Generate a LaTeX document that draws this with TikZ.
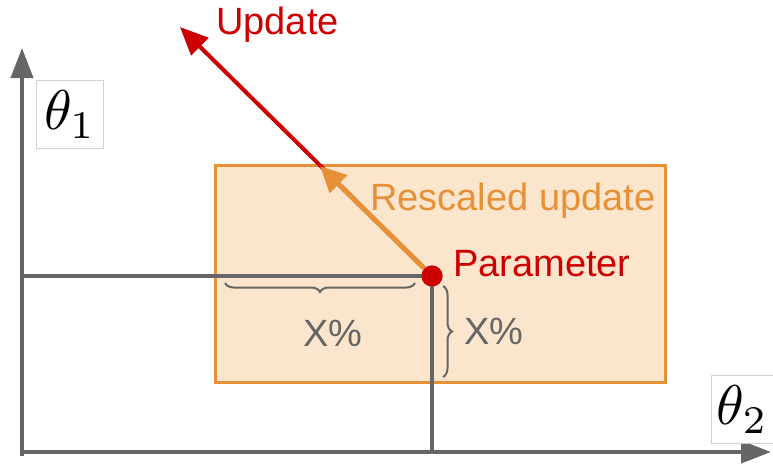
\documentclass[tikz,border=0pt]{standalone}
\usepackage{fontspec}
\setmainfont{Liberation Sans}
\usetikzlibrary{arrows.meta,decorations.pathreplacing}
\definecolor{dred}{HTML}{CC0000}
\definecolor{orng}{HTML}{E69138}
\definecolor{peach}{HTML}{FCE5CD}
\definecolor{dgray}{HTML}{666666}
\tikzset{
  axis/.style={draw=dgray,line width=4pt,-{Triangle[length=30pt,width=22pt]}},
  gline/.style={draw=dgray,line width=4pt},
  bracey/.style={draw=dgray,line width=2pt,decorate,decoration={brace,amplitude=9pt}},
  lbl/.style={font=\fontsize{38}{40}\selectfont,inner sep=0pt},
  thbox/.style={draw=black!18,line width=0.8pt,fill=white,inner sep=0pt}
}
\begin{document}
\begin{tikzpicture}[x=1pt,y=-1pt]
\useasboundingbox (0,0) rectangle (773,463);
% region
\node (box) [draw=orng,fill=peach,line width=3pt,minimum width=450pt,minimum height=217pt,inner sep=0pt,anchor=north west] at (214,164) {};
% coordinates
\coordinate (yend) at (22,48);
\coordinate (xend) at (771,452);
\coordinate (ybot) at (22,456);
\coordinate (xstart) at (20,452);
\coordinate (hl) at (22,276);
\coordinate (vb) at (432,452);
\coordinate (utip) at (180,27);
\coordinate (rtip) at (320,166);
% axes
\draw[axis] (ybot) -- (yend);
\draw[axis] (xstart) -- (xend);
% parameter point
\node (param) [circle,fill=dred,minimum size=21pt,inner sep=0pt] at (432,276) {};
% projection lines
\draw[gline] (hl) -- (param.center) -- (vb);
% braces
\coordinate (b1a) at (415,283);
\coordinate (b1b) at (225,283);
\coordinate (b2a) at (443,286);
\coordinate (b2b) at (443,377);
\draw[bracey] (b1a) -- (b1b);
\draw[bracey] (b2a) -- (b2b);
\node (xp1) [lbl,text=dgray] at (333,333) {X\%};
\node (xp2) [lbl,text=dgray] at (494,331) {X\%};
% arrows
\draw[dred,line width=4pt,-{Triangle[length=28pt,width=24pt]}] (param.center) -- (utip);
\draw[orng,line width=5pt,-{Triangle[length=26pt,width=24pt]}] (param.center) -- (rtip);
\node (param2) [circle,fill=dred,minimum size=21pt,inner sep=0pt] at (param) {};
% labels
\node (upd) [lbl,text=dred,anchor=west] at (216,25) {Update};
\node (resc) [lbl,text=orng,anchor=west] at (370,201) {Rescaled update};
\node (ptext) [lbl,text=dred,anchor=west] at (453,264) {Parameter};
% theta labels
\node (th1) [thbox,anchor=north west,minimum width=67pt,minimum height=68pt] at (36,80) {\scalebox{5.6}{$\theta_1$}};
\node (th2) [thbox,anchor=north west,minimum width=62pt,minimum height=68pt] at (711,375) {\scalebox{5.6}{$\theta_2$}};
\end{tikzpicture}
\end{document}
